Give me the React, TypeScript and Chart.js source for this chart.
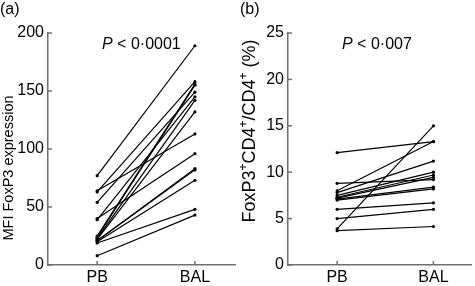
import React, { useEffect, useRef } from "react";
import { Chart, registerables } from "chart.js";

Chart.register(...registerables);

const CATEGORIES = ["PB", "BAL"];

// Panel (a): MFI FoxP3 expression
const PB_A = [77, 64, 63, 54, 40, 39, 25, 24, 23, 22, 21, 21, 20, 19, 8];
const BAL_A = [189, 113, 158, 149, 96, 145, 156, 155, 142, 132, 83, 82, 73, 48, 43];
const TICKS_A = [0, 50, 100, 150, 200];

// Panel (b): FoxP3+CD4+/CD4+ (%)
const PB_B = [12.1, 8.8, 8.0, 7.8, 7.5, 7.3, 7.2, 7.1, 7.0, 6.0, 5.0, 3.9, 3.7];
const BAL_B = [13.3, 9.2, 13.3, 11.2, 10.0, 9.7, 9.45, 8.4, 8.2, 6.7, 6.0, 15.0, 4.15];
const TICKS_B = [0, 5, 10, 15, 20, 25];

const FONT = "'Liberation Sans', Arial, Helvetica, sans-serif";
const AXIS = "#707070";

type Seg = [string, boolean];

function makeConfig(opts: {
  pb: number[];
  bal: number[];
  yMax: number;
  yStep: number;
  xMin: number;
  xMax: number;
  padRight: number;
  panel: string;
  pText: string;
  titleSegs: Seg[];
  titleX: number;
  titleY: number;
  titleSize: number;
  supSize: number;
}) {
  const datasets = opts.pb.map((v, i) => ({
    data: [
      { x: 0, y: v },
      { x: 1, y: opts.bal[i] },
    ],
    borderColor: "#000",
    backgroundColor: "#000",
    borderWidth: 1.2,
    pointRadius: 1.6,
    pointBorderWidth: 0,
    pointBackgroundColor: "#000",
  }));

  const decor = {
    id: "decor",
    afterDraw(chart: any) {
      const { ctx, chartArea, scales } = chart;
      ctx.save();
      // inward tick marks
      ctx.strokeStyle = AXIS;
      ctx.lineWidth = 1.5;
      scales.y.ticks.forEach((t: any) => {
        const py = scales.y.getPixelForValue(t.value);
        ctx.beginPath();
        ctx.moveTo(chartArea.left, py);
        ctx.lineTo(chartArea.left + 4, py);
        ctx.stroke();
      });
      scales.x.ticks.forEach((t: any) => {
        const px = scales.x.getPixelForValue(t.value);
        ctx.beginPath();
        ctx.moveTo(px, chartArea.bottom);
        ctx.lineTo(px, chartArea.bottom - 4);
        ctx.stroke();
      });
      // panel label
      ctx.fillStyle = "#000";
      ctx.textBaseline = "middle";
      ctx.textAlign = "left";
      ctx.font = `16px ${FONT}`;
      ctx.fillText(opts.panel, 0, 10);
      // P value
      ctx.font = `italic 16px ${FONT}`;
      ctx.fillText("P", 102, 45);
      const w = ctx.measureText("P").width;
      ctx.font = `16px ${FONT}`;
      ctx.fillText(" < " + opts.pText, 102 + w, 45);
      // y title
      ctx.translate(opts.titleX, opts.titleY);
      ctx.rotate(-Math.PI / 2);
      const big = `${opts.titleSize}px ${FONT}`;
      const small = `${opts.supSize}px ${FONT}`;
      let total = 0;
      opts.titleSegs.forEach(([s, sup]) => {
        ctx.font = sup ? small : big;
        total += ctx.measureText(s).width;
      });
      let x = -total / 2;
      opts.titleSegs.forEach(([s, sup]) => {
        ctx.font = sup ? small : big;
        ctx.fillText(s, x, sup ? -opts.titleSize * 0.33 : 0);
        x += ctx.measureText(s).width;
      });
      ctx.restore();
    },
  };

  return {
    type: "line" as const,
    data: { datasets },
    plugins: [decor],
    options: {
      animation: false as const,
      responsive: false,
      layout: { padding: { top: 33, left: 0, right: opts.padRight, bottom: 0 } },
      plugins: { legend: { display: false }, tooltip: { enabled: false } },
      scales: {
        x: {
          type: "linear" as const,
          min: opts.xMin,
          max: opts.xMax,
          afterBuildTicks: (s: any) => {
            s.ticks = [{ value: 0 }, { value: 1 }];
          },
          afterFit: (s: any) => {
            s.height = 21;
          },
          grid: { display: true, drawOnChartArea: false, drawTicks: false },
          border: { display: true, color: AXIS, width: 1.5 },
          ticks: {
            padding: 3,
            color: "#000",
            font: { family: FONT, size: 16 },
            callback: (v: any) => CATEGORIES[v] ?? "",
          },
        },
        y: {
          type: "linear" as const,
          min: 0,
          max: opts.yMax,
          afterFit: (s: any) => {
            s.width = 48;
          },
          grid: { display: true, drawOnChartArea: false, drawTicks: false },
          border: { display: true, color: AXIS, width: 1.5 },
          ticks: {
            stepSize: opts.yStep,
            padding: 4,
            color: "#000",
            font: { family: FONT, size: 16 },
          },
        },
      },
    },
  };
}

function Panel(props: { left: number; width: number; config: any }) {
  const ref = useRef<HTMLCanvasElement | null>(null);
  useEffect(() => {
    if (!ref.current) return;
    const chart = new Chart(ref.current, props.config);
    return () => chart.destroy();
  }, []);
  return (
    <canvas
      ref={ref}
      width={props.width}
      height={286}
      style={{ position: "absolute", left: props.left, top: 0, width: props.width, height: 286 }}
    />
  );
}

export default function App() {
  const cfgA = makeConfig({
    pb: PB_A,
    bal: BAL_A,
    yMax: TICKS_A[TICKS_A.length - 1],
    yStep: TICKS_A[1] - TICKS_A[0],
    xMin: -0.503,
    xMax: 1.41,
    padRight: 5,
    panel: "(a)",
    pText: "0·0001",
    titleSegs: [["MFI FoxP3 expression", false]],
    titleX: 9,
    titleY: 168,
    titleSize: 14.5,
    supSize: 10,
  });
  const cfgB = makeConfig({
    pb: PB_B,
    bal: BAL_B,
    yMax: TICKS_B[TICKS_B.length - 1],
    yStep: TICKS_B[1] - TICKS_B[0],
    xMin: -0.51,
    xMax: 1.39,
    padRight: 1,
    panel: "(b)",
    pText: "0·007",
    titleSegs: [
      ["FoxP3", false],
      ["+", true],
      ["CD4", false],
      ["+", true],
      ["/CD4", false],
      ["+", true],
      [" (%)", false],
    ],
    titleX: 10,
    titleY: 131,
    titleSize: 18,
    supSize: 12,
  });
  return (
    <div style={{ position: "fixed", left: 0, top: 0, width: 475, height: 286, background: "#fff" }}>
      <Panel left={0} width={240} config={cfgA} />
      <Panel left={240} width={235} config={cfgB} />
    </div>
  );
}
